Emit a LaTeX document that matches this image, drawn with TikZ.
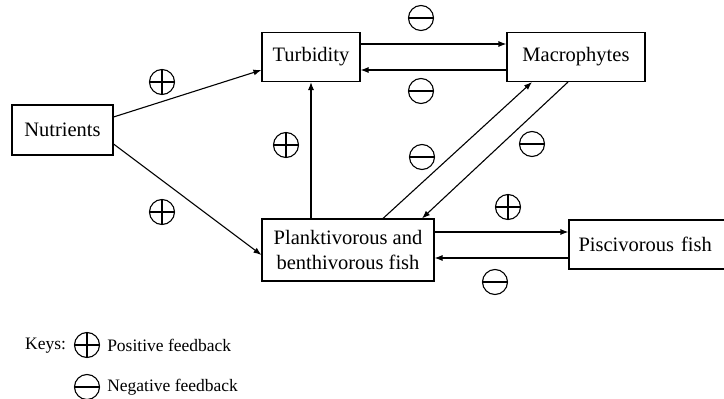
\documentclass[tikz,border=0pt]{standalone}
\usepackage{fontspec}
\setmainfont{Liberation Serif}
\usepackage{tikz}
\usetikzlibrary{arrows.meta, positioning}
\tikzset{>={Latex[length=8pt,width=6pt]}}
\tikzset{
  box/.style={draw, line width=1.1pt, inner sep=0pt, font=\fontsize{20.5}{24.5}\selectfont, align=center},
  sign/.style={draw, circle, line width=1.1pt, minimum size=25pt, inner sep=0pt},
  possign/.style={sign, path picture={
      \draw[line width=1.1pt] (path picture bounding box.north) -- (path picture bounding box.south);
      \draw[line width=1.1pt] (path picture bounding box.west) -- (path picture bounding box.east);}},
  negsign/.style={sign, path picture={
      \draw[line width=1.1pt] (path picture bounding box.west) -- (path picture bounding box.east);}},
  keytext/.style={font=\fontsize{17.5}{20}\selectfont, inner sep=0pt}
}

\begin{document}
\begin{tikzpicture}[x=1pt, y=-1pt]
\useasboundingbox (0,0) rectangle (724,399);
\node [box, minimum width=101pt, minimum height=50pt] (nut) at (62.5,130) {Nutrients};
\node [box, minimum width=98pt, minimum height=49pt] (tur) at (311,57) {Turbidity};
\node [box, minimum width=138pt, minimum height=49pt] (mac) at (576,57) {Macrophytes};
\node [box, minimum width=172pt, minimum height=62pt] (pla) at (348,250) {Planktivorous and\\benthivorous fish};
\node [box, minimum width=157pt, minimum height=49pt, text width=138pt, align=left] (pis) at (647.5,244.5) {Piscivorous fish};

% links
\draw[->, line width=1.1pt]([yshift=13pt]nut.east)--([yshift=-13pt]tur.west);
\draw[->, line width=1.1pt]([yshift=-14pt]nut.east)--([yshift=-5pt]pla.west);
\draw[->, line width=1.1pt]([yshift=13pt]tur.east)--([yshift=13pt]mac.west);
\draw[->, line width=1.1pt]([yshift=-13pt]mac.west)--([yshift=-13pt]tur.east);
\draw[->, line width=1.1pt]([xshift=-37pt]pla.north)--(tur.south);
\draw[->, line width=1.1pt]([xshift=35pt]pla.north)--([xshift=-44pt]mac.south);
\draw[->, line width=1.1pt]([xshift=-8pt]mac.south)--([xshift=74pt]pla.north);
\draw[->, line width=1.1pt]([yshift=18pt]pla.east)--([yshift=12.5pt]pis.west);
\draw[->, line width=1.1pt]([yshift=-13.5pt]pis.west)--([yshift=-8pt]pla.east);

% signs
\node [negsign] (n1) at (421,18) {};
\node [negsign] (n2) at (421,91) {};
\node [possign] (p1) at (162,82) {};
\node [possign] (p2) at (286,145) {};
\node [possign] (p3) at (162,212) {};
\node [negsign] (n3) at (422,157) {};
\node [negsign] (n4) at (532,144) {};
\node [possign] (p4) at (508,207) {};
\node [negsign] (n5) at (495,282) {};

% keys
\node [keytext, anchor=west] (keys) at (25,346) {Keys:};
\node [possign] (kp) at (87,345) {};
\node [keytext, anchor=west, right=7pt of kp] (kpt) {Positive feedback};
\node [negsign] (kn) at (87,387) {};
\node [keytext, anchor=west, right=7pt of kn] (knt) {Negative feedback};
\end{tikzpicture}
\end{document}
